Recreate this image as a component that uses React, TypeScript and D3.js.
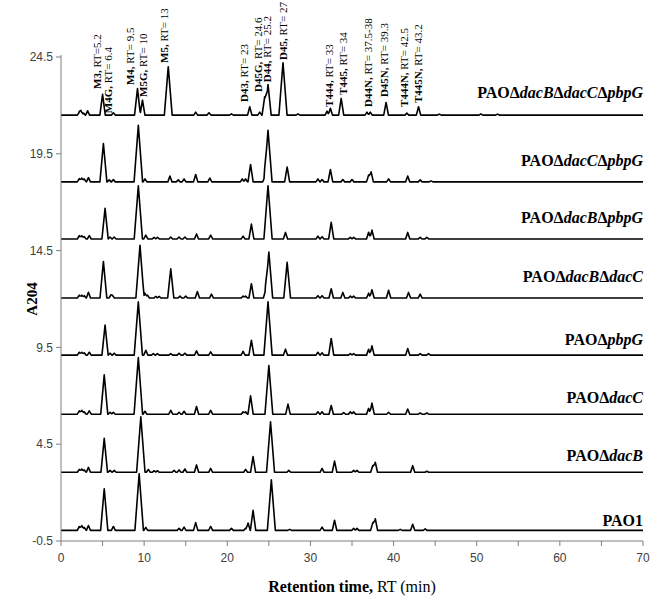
import React from 'react';
import * as d3 from 'd3';

// ---------- data ----------
type Peak = [number, number]; // [retention time (min), height above trace baseline (A204)]

const xTicks = d3.range(0, 71, 5);
const xTickLabels = [0, 10, 20, 30, 40, 50, 60, 70];
const yTickValues = [-0.5, 4.5, 9.5, 14.5, 19.5, 24.5];

// strain label segments: [text, italic]
const strainLabels: [string, boolean][][] = [
  [['PAO', false], ['Δ', false], ['dacB', true], ['Δ', false], ['dacC', true], ['Δ', false], ['pbpG', true]],
  [['PAO', false], ['Δ', false], ['dacC', true], ['Δ', false], ['pbpG', true]],
  [['PAO', false], ['Δ', false], ['dacB', true], ['Δ', false], ['pbpG', true]],
  [['PAO', false], ['Δ', false], ['dacB', true], ['Δ', false], ['dacC', true]],
  [['PAO', false], ['Δ', false], ['pbpG', true]],
  [['PAO', false], ['Δ', false], ['dacC', true]],
  [['PAO', false], ['Δ', false], ['dacB', true]],
  [['PAO1', false]],
];

const traceOffsets = [21.5, 18.05, 15.1, 12.05, 9.1, 6.05, 3.05, 0.05];
const strainLabelLevels = [22.38, 18.85, 15.9, 12.9, 9.62, 6.63, 3.63, 0.3];

const peaksDBDCPG: Peak[] = [[2.2,0.15],[2.4,0.22],[2.7,0.1],[3.2,0.22],[5.0,1.07],[6.3,0.12],[9.2,1.37],[9.8,0.77],[12.9,2.5],[16.2,0.15],[17.8,0.12],[20.5,0.06],[22.7,0.43],[23.9,0.15],[24.5,0.95],[24.9,1.58],[26.7,2.7],[28.5,0.06],[32.0,0.2],[32.4,0.35],[33.7,0.86],[36.8,0.15],[37.2,0.15],[39.1,0.65],[41.6,0.1],[43.0,0.43],[45.5,0.05],[50.5,0.06],[52.5,0.05]];
const peaksDCPG: Peak[] = [[2.2,0.17],[2.5,0.2],[2.8,0.15],[3.3,0.22],[5.1,1.98],[5.8,0.1],[6.3,0.12],[9.3,2.92],[10.1,0.15],[13.1,0.3],[14.1,0.1],[14.8,0.15],[16.2,0.38],[17.9,0.2],[21.8,0.15],[22.2,0.15],[22.8,0.9],[24.5,0.25],[24.9,2.66],[27.2,0.77],[30.9,0.15],[31.4,0.12],[32.4,0.64],[33.9,0.12],[35.0,0.12],[37.0,0.35],[37.3,0.52],[39.4,0.15],[41.7,0.3],[43.2,0.1],[44.5,0.05]];
const peaksDBPG: Peak[] = [[2.2,0.17],[2.5,0.17],[2.8,0.12],[3.4,0.17],[5.3,1.58],[5.9,0.1],[6.4,0.1],[9.3,2.75],[10.2,0.2],[11.2,0.08],[11.6,0.08],[13.2,0.1],[14.2,0.1],[14.9,0.1],[16.3,0.26],[18.0,0.2],[21.9,0.15],[22.9,0.77],[24.9,2.75],[27.0,0.34],[30.9,0.15],[31.4,0.12],[32.5,0.86],[34.8,0.08],[35.2,0.08],[37.0,0.35],[37.4,0.46],[41.7,0.34],[43.2,0.08],[44.0,0.08]];
const peaksDBDC: Peak[] = [[2.2,0.15],[2.5,0.15],[2.8,0.12],[3.3,0.3],[5.1,1.89],[6.0,0.15],[6.2,0.12],[9.5,2.72],[10.1,0.25],[10.4,0.15],[11.4,0.08],[11.8,0.08],[13.2,1.51],[14.3,0.1],[15.0,0.1],[16.4,0.34],[18.1,0.2],[21.9,0.1],[22.2,0.1],[22.9,0.74],[24.6,0.4],[25.0,2.37],[27.2,1.84],[30.9,0.12],[31.4,0.12],[32.5,0.48],[33.9,0.29],[34.8,0.1],[35.2,0.1],[37.0,0.25],[37.4,0.43],[39.4,0.4],[41.8,0.29],[43.2,0.2]];
const peaksPG: Peak[] = [[2.2,0.15],[2.5,0.15],[2.8,0.12],[3.4,0.15],[5.3,1.55],[5.9,0.1],[6.4,0.1],[9.3,2.75],[10.2,0.25],[11.1,0.08],[11.6,0.08],[13.2,0.08],[14.2,0.1],[14.9,0.1],[16.3,0.22],[18.0,0.17],[21.9,0.2],[22.9,0.77],[24.9,2.75],[27.0,0.31],[30.9,0.15],[31.4,0.12],[32.5,0.86],[34.8,0.08],[35.2,0.08],[37.0,0.3],[37.4,0.48],[41.7,0.34],[43.2,0.08],[44.2,0.08]];
const peaksDC: Peak[] = [[2.2,0.17],[2.5,0.2],[2.8,0.12],[3.4,0.17],[5.2,2.03],[5.9,0.1],[6.3,0.1],[9.3,2.92],[10.1,0.15],[13.2,0.2],[14.2,0.1],[14.8,0.15],[16.3,0.4],[18.0,0.2],[21.9,0.12],[22.2,0.12],[22.8,0.95],[25.0,2.51],[27.3,0.52],[30.9,0.12],[31.4,0.12],[32.5,0.45],[34.0,0.08],[34.8,0.12],[35.2,0.12],[37.0,0.3],[37.4,0.57],[39.4,0.1],[41.7,0.27],[43.2,0.06],[44.0,0.06]];
const peaksDB: Peak[] = [[2.2,0.15],[2.5,0.17],[2.8,0.12],[3.3,0.25],[5.2,1.75],[5.9,0.1],[6.4,0.1],[9.6,2.87],[10.5,0.15],[11.2,0.08],[11.6,0.08],[13.6,0.1],[14.2,0.12],[14.9,0.17],[16.3,0.38],[18.0,0.2],[22.2,0.15],[23.1,0.81],[25.2,2.61],[27.4,0.1],[31.4,0.2],[32.9,0.58],[35.2,0.1],[35.6,0.1],[37.5,0.35],[37.8,0.52],[42.3,0.34],[44.0,0.05]];
const peaksPAO1: Peak[] = [[2.2,0.2],[2.5,0.25],[2.8,0.15],[3.3,0.25],[5.2,2.15],[6.3,0.2],[9.4,2.92],[10.2,0.15],[14.2,0.1],[14.8,0.17],[16.2,0.4],[18.0,0.2],[20.5,0.1],[22.2,0.1],[22.5,0.38],[23.1,1.03],[25.3,2.61],[27.5,0.05],[31.4,0.17],[32.9,0.52],[35.2,0.1],[35.6,0.1],[37.5,0.4],[37.8,0.6],[40.8,0.05],[42.3,0.31],[43.8,0.08]];

const tracePeaks: Peak[][] = [peaksDBDCPG, peaksDCPG, peaksDBPG, peaksDBDC, peaksPG, peaksDC, peaksDB, peaksPAO1];

// peak annotations on the top chromatogram
const annNames = ['M3', 'M4G', 'M4', 'M5G', 'M5', 'D43', 'D45G', 'D44', 'D45', 'T444', 'T445', 'D44N', 'D45N', 'T444N', 'T445N'];
const annRT = ['RT=5.2', 'RT= 6.4', 'RT= 9.5', 'RT= 10', 'RT= 13', 'RT= 23', 'RT= 24.6', 'RT= 25.2', 'RT= 27', 'RT= 33', 'RT= 34', 'RT= 37.5-38', 'RT= 39.3', 'RT= 42.5', 'RT= 43.2'];
const annAnchorRT = [4.8, 6.1, 8.8, 10.3, 12.9, 22.5, 24.2, 25.2, 27.2, 32.7, 34.4, 37.4, 39.3, 41.7, 43.4];
const annBottom = [22.85, 21.6, 23.05, 22.44, 24.19, 22.18, 22.69, 23.2, 24.35, 21.92, 22.54, 21.92, 22.43, 21.92, 22.12];

// ---------- layout ----------
const W = 650, H = 602;
const X0 = 61, X1 = 643, Y0 = 541, Y1 = 57;
const serif = '"Liberation Serif", "Times New Roman", serif';
const sans = '"Liberation Sans", Arial, sans-serif';

const x = d3.scaleLinear().domain([0, 70]).range([X0, X1]);
const y = d3.scaleLinear().domain([-0.5, 24.5]).range([Y0, Y1]);

function halfWidth(h: number) {
  return 0.22 + 0.1 * h;
}

function tracePoints(peaks: Peak[], offset: number): [number, number][] {
  const xs = new Set<number>([0, 70]);
  peaks.forEach(([rt, h]) => {
    const w = halfWidth(h);
    xs.add(+(rt - w).toFixed(4));
    xs.add(rt);
    xs.add(+(rt + w).toFixed(4));
  });
  const sorted = Array.from(xs).sort((a, b) => a - b);
  return sorted.map((t) => {
    let v = 0;
    peaks.forEach(([rt, h]) => {
      const w = halfWidth(h);
      const d = Math.abs(t - rt);
      if (d < w) v += h * (1 - d / w);
    });
    return [t, offset + v];
  });
}

const line = d3
  .line<[number, number]>()
  .x((d) => x(d[0]))
  .y((d) => y(d[1]));

export default function App() {
  const axisColor = '#7f7f7f';
  return (
    <svg
      width={W}
      height={H}
      style={{ position: 'absolute', left: 0, top: 0, background: '#fff' }}
    >
      <rect x={0} y={0} width={W} height={H} fill="#fff" />
      {/* traces */}
      {tracePeaks.map((p, i) => (
        <path
          key={i}
          d={line(tracePoints(p, traceOffsets[i])) || ''}
          fill="none"
          stroke="#000"
          strokeWidth={1.6}
          strokeLinejoin="round"
        />
      ))}
      {/* axes */}
      <line x1={X0} x2={X0} y1={y(24.5) - 2} y2={Y0} stroke={axisColor} strokeWidth={1} />
      <line x1={X0} x2={X1} y1={Y0} y2={Y0} stroke={axisColor} strokeWidth={1} />
      {yTickValues.map((v) => (
        <g key={v}>
          <line x1={X0 - 5} x2={X0} y1={y(v)} y2={y(v)} stroke={axisColor} />
          <text
            x={X0 - 8}
            y={y(v)}
            dy="0.35em"
            textAnchor="end"
            fontFamily={sans}
            fontSize={12}
            fill="#404040"
          >
            {v}
          </text>
        </g>
      ))}
      {xTicks.map((v) => (
        <line key={v} x1={x(v)} x2={x(v)} y1={Y0} y2={Y0 + 5} stroke={axisColor} />
      ))}
      {xTickLabels.map((v) => (
        <text
          key={v}
          x={x(v)}
          y={Y0 + 21}
          textAnchor="middle"
          fontFamily={sans}
          fontSize={12}
          fill="#404040"
        >
          {v}
        </text>
      ))}
      {/* axis titles */}
      <text
        transform={`translate(37,${(Y0 + Y1) / 2}) rotate(-90)`}
        textAnchor="middle"
        fontFamily={serif}
        fontWeight="bold"
        fontSize={15}
        fill="#000"
      >
        A204
      </text>
      <text
        x={(X0 + X1) / 2}
        y={592}
        textAnchor="middle"
        fontFamily={serif}
        fontSize={16}
        fill="#000"
      >
        <tspan fontWeight="bold">Retention time,</tspan>
        <tspan> RT (min)</tspan>
      </text>
      {/* strain labels */}
      {strainLabels.map((segs, i) => (
        <text
          key={i}
          x={X1}
          y={y(strainLabelLevels[i])}
          textAnchor="end"
          fontFamily={serif}
          fontWeight="bold"
          fontSize={16}
          fill="#000"
        >
          {segs.map(([t, it], j) => (
            <tspan key={j} fontStyle={it ? 'italic' : 'normal'}>
              {t}
            </tspan>
          ))}
        </text>
      ))}
      {/* peak annotations */}
      {annNames.map((n, i) => (
        <text
          key={n}
          transform={`translate(${x(annAnchorRT[i])},${y(annBottom[i])}) rotate(-90)`}
          fontFamily={serif}
          fontSize={11}
          fill="#000"
        >
          <tspan fontWeight="bold">{n},</tspan>
          <tspan> {annRT[i]}</tspan>
        </text>
      ))}
    </svg>
  );
}
